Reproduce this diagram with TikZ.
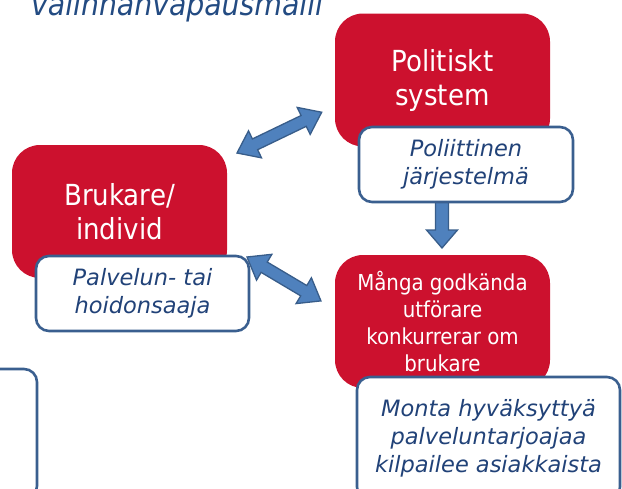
\documentclass[tikz,border=0pt]{standalone}
\usepackage{fontspec}
\setmainfont{DejaVu Sans}
\newfontfamily\condfont{DejaVu Sans Condensed}
\definecolor{boxred}{RGB}{204,17,46}
\definecolor{boxline}{RGB}{58,95,143}
\definecolor{textblue}{RGB}{33,66,120}
\definecolor{titleblue}{RGB}{35,75,130}
\definecolor{arrowfill}{RGB}{79,129,189}
\definecolor{arrowline}{RGB}{56,93,138}
% block arrows along +x, length in pt
\newcommand{\dblarrow}[1]{\filldraw[blockarrow] (0,0) -- (20,15) -- (20,6) -- ({#1-20},6) -- ({#1-20},15) -- (#1,0) -- ({#1-20},-15) -- ({#1-20},-6) -- (20,-6) -- (20,-15) -- cycle;}
\newcommand{\sglarrow}[1]{\filldraw[blockarrow] (0,-6.5) -- ({#1-18},-6.5) -- ({#1-18},-15.5) -- (#1,0) -- ({#1-18},15.5) -- ({#1-18},6.5) -- (0,6.5) -- cycle;}
\begin{document}
\begin{tikzpicture}[x=1pt,y=-1pt,
  redbox/.style={fill=boxred, rounded corners=28pt, minimum width=215pt, minimum height=133pt,
    inner sep=0pt, text=white, align=center},
  bigtext/.style={font=\condfont\fontsize{29}{34}\selectfont},
  smalltext/.style={font=\condfont\fontsize{22}{27}\selectfont},
  whitebox/.style={draw=boxline, line width=2.6pt, fill=white, rounded corners=13pt, inner sep=0pt,
    text=textblue, align=center, font=\fontsize{22.5}{28}\selectfont\itshape},
  blockarrow/.style={fill=arrowfill, draw=arrowline, line width=1.3pt}]
\useasboundingbox (0,0) rectangle (622,488);
\clip (0,0) rectangle (622,488);
% title, cut by the top edge
\node[anchor=base west, inner sep=0pt, text=titleblue, font=\condfont\itshape\fontsize{31.5}{36}\selectfont]
  (title) at (31,15) {valinnanvapausmalli};
% red boxes
\node[redbox, bigtext] (pol) at (442.5,80) {Politiskt\\system};
\node[redbox, bigtext] (bru) at (119.5,211.5) {Brukare/\\individ};
\node[redbox, smalltext] (man) at (442.5,321.5) {Många godkända\\utförare\\konkurrerar om\\brukare};
% arrow end points
\coordinate (a1) at (237,153);
\coordinate (a2) at (247,257);
\coordinate (a3) at (442,202);
\begin{scope}[shift={(a1)}, rotate=25.7] \dblarrow{94} \end{scope}
\begin{scope}[shift={(a2)}, rotate=-30.7] \dblarrow{86} \end{scope}
\begin{scope}[shift={(a3)}, rotate=-90] \sglarrow{46} \end{scope}
% white boxes
\node[whitebox, minimum width=214pt, minimum height=75pt] (polfi) at (466,164.5) {Poliittinen\\järjestelmä};
\node[whitebox, minimum width=213pt, minimum height=75pt] (brufi) at (142.5,293.5) {Palvelun- tai\\hoidonsaaja};
\node[whitebox, minimum width=263pt, minimum height=123pt] (manfi) at (488.5,438.5)
  {Monta hyväksyttyä\\palveluntarjoajaa\\kilpailee asiakkaista};
\node[whitebox, minimum width=80pt, minimum height=130pt] (leftbox) at (-3,434) {};
\end{tikzpicture}
\end{document}
